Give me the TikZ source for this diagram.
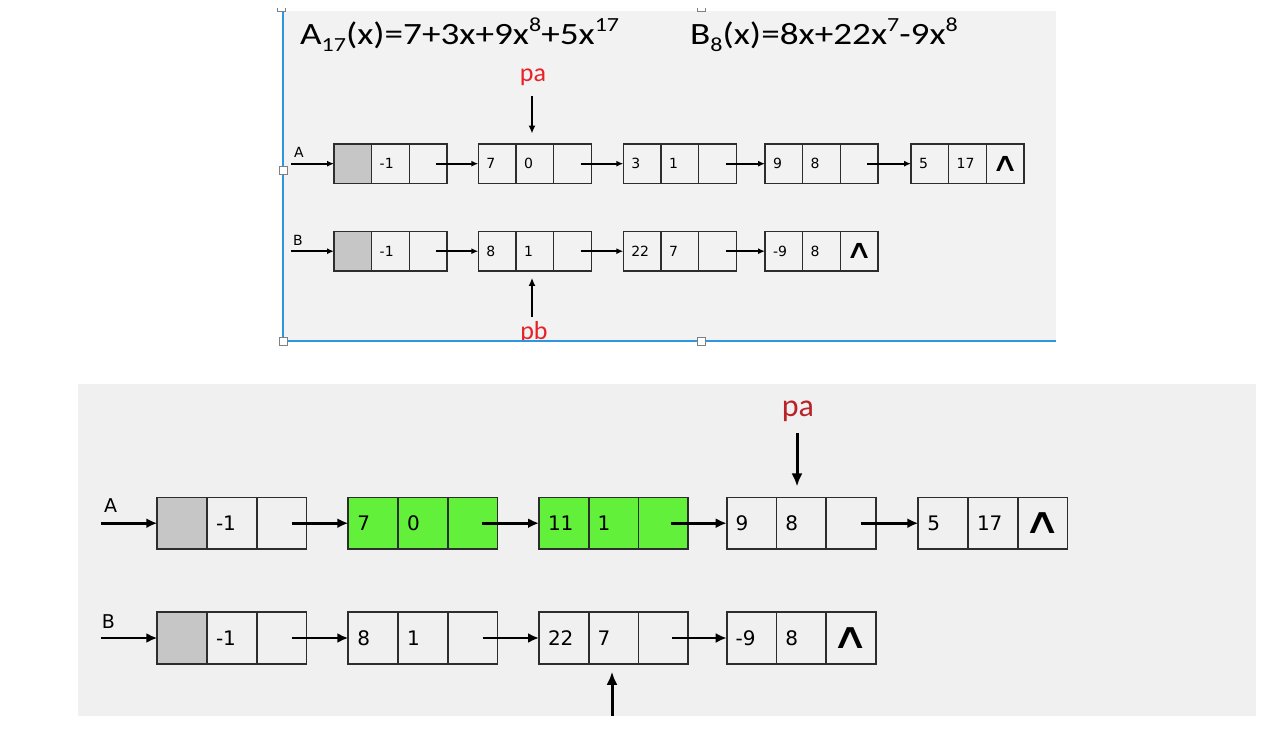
\documentclass[tikz,border=0pt]{standalone}
\usepackage{fontspec}
\setmainfont{DejaVu Sans}
\newfontfamily\calib{Carlito}
\newfontfamily\calibw[FakeStretch=1.2]{Carlito}
\usetikzlibrary{arrows.meta}
\definecolor{bgtop}{RGB}{242,242,242}
\definecolor{bgbot}{RGB}{240,240,240}
\definecolor{headgray}{RGB}{198,198,198}
\definecolor{ngreen}{RGB}{98,240,58}
\definecolor{bordc}{RGB}{45,45,45}
\definecolor{selblue}{RGB}{45,150,225}
\definecolor{redA}{RGB}{232,32,40}
\definecolor{redB}{RGB}{185,35,40}
\newcommand\mysub[1]{\raisebox{-0.22em}{\fontsize{20}{20}\selectfont #1}}
\newcommand\mysup[1]{\raisebox{0.42em}{\fontsize{20}{20}\selectfont #1}}
\newcommand\nilT{\scalebox{1.45}[1]{∧}}
\newcommand\nilB{\scalebox{1.45}[1]{∧}}
% #1 name, #2 cell style, #3 extra for first cell, #4 position, #5 #6 texts, #7 nil mark
\newcommand{\llnode}[7]{%
  \node[#2,anchor=west,#3] (#1a) at #4 {#5};
  \node[#2,anchor=west] (#1b) at (#1a.east) {#6};
  \node[#2,anchor=west] (#1c) at (#1b.east) {};
  \node[nilmark] (#1n) at (#1c.center) {#7};
}
\begin{document}
\begin{tikzpicture}[x=1pt,y=-1pt,
  cellT/.style={draw=bordc, line width=1.4pt, outer sep=0pt, inner xsep=8pt, inner ysep=0pt,
    text width=21.7pt, minimum height=39.3pt, align=left, font=\fontsize{14}{14}\selectfont},
  cellB/.style={draw=bordc, line width=1.8pt, outer sep=0pt, inner xsep=9pt, inner ysep=0pt,
    text width=31.7pt, minimum height=51.5pt, align=left, font=\fontsize{20}{20}\selectfont},
  nilmark/.style={inner sep=0pt, font=\fontsize{#1}{#1}\selectfont},
  ptrT/.style={line width=1.8pt, -{Latex[length=7pt,width=6pt]}},
  ptrB/.style={line width=2.6pt, -{Latex[length=11pt,width=10pt]}},
  vptrT/.style={line width=2pt, -{Latex[length=8pt,width=7pt]}},
  vptrB/.style={line width=3pt, -{Latex[length=13pt,width=11pt]}},
  lblT/.style={inner sep=0pt, font=\fontsize{14}{14}\selectfont},
  lblB/.style={inner sep=0pt, font=\fontsize{19}{19}\selectfont},
  handle/.style={draw=gray, fill=white, line width=0.8pt, minimum size=8pt, inner sep=0pt},
]
\useasboundingbox (0,0) rectangle (1284,730);
\fill[white] (0,0) rectangle (1284,730);

% ---------------- top panel ----------------
\fill[bgtop] (283,11) rectangle (1056,341);

\node[anchor=base west, inner sep=0pt, font=\calibw\fontsize{31}{31}\selectfont] (fa) at (300,45)
  {A\mysub{17}(x)=7+3x+9x\mysup{8}+5x\mysup{17}};
\node[anchor=base west, inner sep=0pt, font=\calibw\fontsize{31}{31}\selectfont] (fb) at (690,45)
  {B\mysub{8}(x)=8x+22x\mysup{7}-9x\mysup{8}};

\tikzset{nilmark/.default=26}
\llnode{ta1}{cellT}{fill=headgray}{(334,163.7)}{}{-1}{}
\llnode{ta2}{cellT}{}{(478.3,163.7)}{7}{0}{}
\llnode{ta3}{cellT}{}{(623.3,163.7)}{3}{1}{}
\llnode{ta4}{cellT}{}{(765,163.7)}{9}{8}{}
\llnode{ta5}{cellT}{}{(911,163.7)}{5}{17}{\nilT}

\llnode{tb1}{cellT}{fill=headgray}{(334,251.2)}{}{-1}{}
\llnode{tb2}{cellT}{}{(478.3,251.2)}{8}{1}{}
\llnode{tb3}{cellT}{}{(623.3,251.2)}{22}{7}{}
\llnode{tb4}{cellT}{}{(765,251.2)}{-9}{8}{\nilT}

\node[lblT] (tA) at (299,152) {A};
\node[lblT] (tB) at (298,240) {B};
\coordinate (tAin) at (291,163.7);
\coordinate (tBin) at (291,251.2);
\draw[ptrT] (tAin) -- (ta1a.west);
\draw[ptrT] (tBin) -- (tb1a.west);
\draw[ptrT] ([xshift=8pt]ta1c.center) -- (ta2a.west);
\draw[ptrT] ([xshift=8pt]ta2c.center) -- (ta3a.west);
\draw[ptrT] ([xshift=8pt]ta3c.center) -- (ta4a.west);
\draw[ptrT] ([xshift=8pt]ta4c.center) -- (ta5a.west);
\draw[ptrT] ([xshift=8pt]tb1c.center) -- (tb2a.west);
\draw[ptrT] ([xshift=8pt]tb2c.center) -- (tb3a.west);
\draw[ptrT] ([xshift=8pt]tb3c.center) -- (tb4a.west);

\node[anchor=base, inner sep=0pt, text=redA, font=\calib\fontsize{26}{26}\selectfont] (tpa) at (533,82) {pa};
\coordinate (tpas) at (532,96);
\draw[vptrT, shorten >=10.5pt] (tpas) -- (tpas |- ta2b.north);
\begin{scope}
  \clip (283,11) rectangle (1056,340);
  \node[anchor=base, inner sep=0pt, text=redA, font=\calib\fontsize{26}{26}\selectfont] (tpb) at (534,339) {pb};
\end{scope}
\coordinate (tpbs) at (532,317);
\draw[vptrT, shorten >=7pt] (tpbs) -- (tpbs |- tb2b.south);

\draw[selblue, line width=1.8pt] (283,11) -- (283,341) -- (1056,341);
\begin{scope}
  \clip (0,9) rectangle (1284,730);
  \node[handle] (h1) at (283,170) {};
  \node[handle] (h2) at (283,341) {};
  \node[handle] (h3) at (701,341) {};
  \node[handle] (h4) at (701,7) {};
  \node[handle] (h5) at (281,7) {};
\end{scope}

% ---------------- bottom panel ----------------
\fill[bgbot] (78,384) rectangle (1256,716);

\tikzset{nilmark/.default=36}
\llnode{ba1}{cellB}{fill=headgray}{(157.3,523.2)}{}{-1}{}
\llnode{ba2}{cellB,fill=ngreen}{}{(348.3,523.2)}{7}{0}{}
\llnode{ba3}{cellB,fill=ngreen}{}{(539,523.2)}{11}{1}{}
\llnode{ba4}{cellB}{}{(726.7,523.2)}{9}{8}{}
\llnode{ba5}{cellB}{}{(918.3,523.2)}{5}{17}{\nilB}

\llnode{bb1}{cellB}{fill=headgray}{(157.3,638)}{}{-1}{}
\llnode{bb2}{cellB}{}{(348.3,638)}{8}{1}{}
\llnode{bb3}{cellB}{}{(539,638)}{22}{7}{}
\llnode{bb4}{cellB}{}{(726.7,638)}{-9}{8}{\nilB}

\node[lblB] (bA) at (110.5,506) {A};
\node[lblB] (bB) at (108.5,622) {B};
\coordinate (bAin) at (101,523.2);
\coordinate (bBin) at (101,638);
\draw[ptrB] (bAin) -- (ba1a.west);
\draw[ptrB] (bBin) -- (bb1a.west);
\draw[ptrB] ([xshift=10pt]ba1c.center) -- (ba2a.west);
\draw[ptrB] ([xshift=9pt]ba2c.center) -- (ba3a.west);
\draw[ptrB] ([xshift=8pt]ba3c.center) -- (ba4a.west);
\draw[ptrB] ([xshift=10pt]ba4c.center) -- (ba5a.west);
\draw[ptrB] ([xshift=10pt]bb1c.center) -- (bb2a.west);
\draw[ptrB] ([xshift=10pt]bb2c.center) -- (bb3a.west);
\draw[ptrB] ([xshift=9pt]bb3c.center) -- (bb4a.west);

\node[anchor=base, inner sep=0pt, text=redB, font=\calib\fontsize{32}{32}\selectfont] (bpa) at (798,416) {pa};
\coordinate (bpas) at (797,433);
\draw[vptrB, shorten >=11pt] (bpas) -- (bpas |- ba4b.north);
\coordinate (bpbs) at (612,716);
\draw[vptrB, shorten >=8pt] (bpbs) -- (bpbs |- bb3b.south);
\end{tikzpicture}
\end{document}
